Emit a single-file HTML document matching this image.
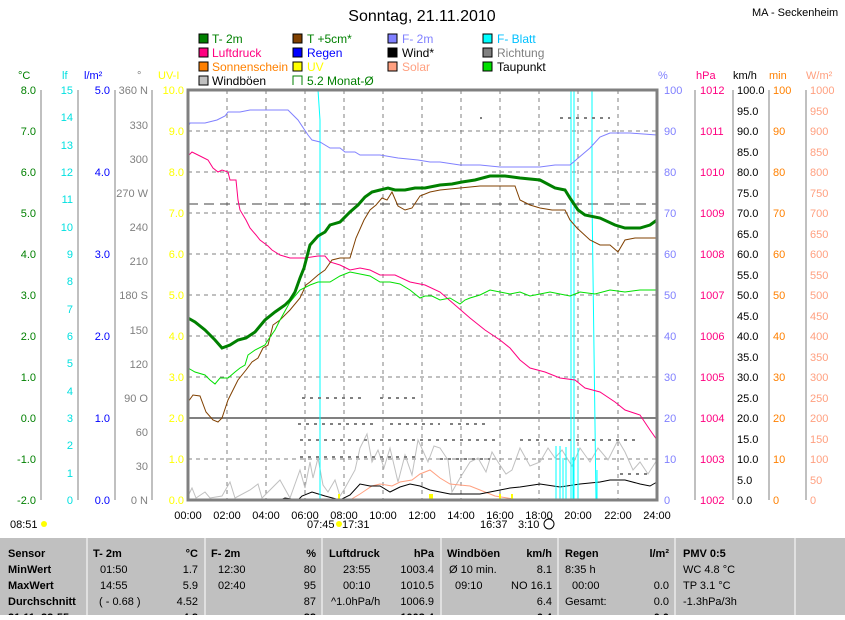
<!DOCTYPE html>
<html><head><meta charset="utf-8"><style>
body{margin:0;background:#fff;width:845px;height:615px;overflow:hidden;font-family:"Liberation Sans",sans-serif}
svg text{font-family:"Liberation Sans",sans-serif}
</style></head><body>
<svg width="845" height="615" viewBox="0 0 845 615" xmlns="http://www.w3.org/2000/svg" font-size="12">
<rect width="845" height="615" fill="#fff"/>
<text x="422" y="21" font-size="16" text-anchor="middle">Sonntag, 21.11.2010</text>
<text x="752" y="16" font-size="11">MA - Seckenheim</text>
<g font-size="12">
<rect x="199" y="34" width="9" height="9" fill="#008000" stroke="#000"/><text x="212" y="43" fill="#008000">T- 2m</text>
<rect x="199" y="48" width="9" height="9" fill="#ff0080" stroke="#000"/><text x="212" y="57" fill="#ff0080">Luftdruck</text>
<rect x="199" y="62" width="9" height="9" fill="#ff8000" stroke="#000"/><text x="212" y="71" fill="#ff8000">Sonnenschein</text>
<rect x="199" y="76" width="9" height="9" fill="#c0c0c0" stroke="#000"/><text x="212" y="85" fill="#000">Windböen</text>
<rect x="293" y="34" width="9" height="9" fill="#804000" stroke="#000"/><text x="307" y="43" fill="#008000">T +5cm*</text>
<rect x="293" y="48" width="9" height="9" fill="#0000ff" stroke="#000"/><text x="307" y="57" fill="#0000ff">Regen</text>
<rect x="293" y="62" width="9" height="9" fill="#ffff00" stroke="#000"/><text x="307" y="71" fill="#ffff00">UV</text>
<path d="M302,85 V76 H293 V85" fill="none" stroke="#008000"/><text x="307" y="85" fill="#008000">5.2 Monat-Ø</text>
<rect x="388" y="34" width="9" height="9" fill="#8080ff" stroke="#000"/><text x="402" y="43" fill="#8080ff">F- 2m</text>
<rect x="388" y="48" width="9" height="9" fill="#000" stroke="#000"/><text x="402" y="57" fill="#000">Wind*</text>
<rect x="388" y="62" width="9" height="9" fill="#ffa080" stroke="#000"/><text x="402" y="71" fill="#ffa080">Solar</text>
<rect x="483" y="34" width="9" height="9" fill="#00ffff" stroke="#000"/><text x="497" y="43" fill="#00c0ff">F- Blatt</text>
<rect x="483" y="48" width="9" height="9" fill="#808080" stroke="#000"/><text x="497" y="57" fill="#808080">Richtung</text>
<rect x="483" y="62" width="9" height="9" fill="#00e000" stroke="#000"/><text x="497" y="71" fill="#000">Taupunkt</text>
</g>
<g font-size="11">
<text x="18" y="79" fill="#008000">°C</text><text x="62" y="79" fill="#00e0e0">lf</text><text x="84" y="79" fill="#0000ff">l/m²</text>
<text x="137" y="79" fill="#808080">°</text><text x="158" y="79" fill="#ffff00">UV-I</text>
<text x="658" y="79" fill="#8080ff">%</text><text x="696" y="79" fill="#ff0080">hPa</text><text x="733" y="79" fill="#000">km/h</text>
<text x="769" y="79" fill="#ff8000">min</text><text x="806" y="79" fill="#ffa080">W/m²</text>
</g>
<g stroke="#808080" stroke-width="1">
<line x1="41" y1="90" x2="41" y2="500"/><line x1="78" y1="90" x2="78" y2="500"/><line x1="115" y1="90" x2="115" y2="500"/><line x1="152" y1="90" x2="152" y2="500"/>
<line x1="695" y1="90" x2="695" y2="500"/><line x1="733" y1="90" x2="733" y2="500"/><line x1="769" y1="90" x2="769" y2="500"/><line x1="806" y1="90" x2="806" y2="500"/>
</g>
<g stroke="#808080" stroke-dasharray="4,4">
<line x1="227" y1="90" x2="227" y2="500"/><line x1="266" y1="90" x2="266" y2="500"/><line x1="305" y1="90" x2="305" y2="500"/><line x1="344" y1="90" x2="344" y2="500"/><line x1="383" y1="90" x2="383" y2="500"/><line x1="422" y1="90" x2="422" y2="500"/><line x1="461" y1="90" x2="461" y2="500"/><line x1="500" y1="90" x2="500" y2="500"/><line x1="539" y1="90" x2="539" y2="500"/><line x1="578" y1="90" x2="578" y2="500"/><line x1="618" y1="90" x2="618" y2="500"/>
<line x1="188" y1="131" x2="657" y2="131"/><line x1="188" y1="172" x2="657" y2="172"/><line x1="188" y1="213" x2="657" y2="213"/><line x1="188" y1="254" x2="657" y2="254"/><line x1="188" y1="295" x2="657" y2="295"/><line x1="188" y1="336" x2="657" y2="336"/><line x1="188" y1="377" x2="657" y2="377"/><line x1="188" y1="459" x2="657" y2="459"/>
</g>
<line x1="188" y1="204" x2="657" y2="204" stroke="#404040" stroke-dasharray="10,6"/>
<line x1="188" y1="418" x2="657" y2="418" stroke="#808080" stroke-width="2"/>
<g font-size="11" text-anchor="end">
<g fill="#008000"><text x="36" y="94">8.0</text><text x="36" y="135">7.0</text><text x="36" y="176">6.0</text><text x="36" y="217">5.0</text><text x="36" y="258">4.0</text><text x="36" y="299">3.0</text><text x="36" y="340">2.0</text><text x="36" y="381">1.0</text><text x="36" y="422">0.0</text><text x="36" y="463">-1.0</text><text x="36" y="504">-2.0</text></g>
<g fill="#00e0e0"><text x="73" y="94">15</text><text x="73" y="121">14</text><text x="73" y="149">13</text><text x="73" y="176">12</text><text x="73" y="203">11</text><text x="73" y="231">10</text><text x="73" y="258">9</text><text x="73" y="285">8</text><text x="73" y="313">7</text><text x="73" y="340">6</text><text x="73" y="367">5</text><text x="73" y="395">4</text><text x="73" y="422">3</text><text x="73" y="449">2</text><text x="73" y="477">1</text><text x="73" y="504">0</text></g>
<g fill="#0000ff"><text x="110" y="94">5.0</text><text x="110" y="176">4.0</text><text x="110" y="258">3.0</text><text x="110" y="340">2.0</text><text x="110" y="422">1.0</text><text x="110" y="504">0.0</text></g>
<g fill="#808080"><text x="148" y="94">360 N</text><text x="148" y="129">330</text><text x="148" y="163">300</text><text x="148" y="197">270 W</text><text x="148" y="231">240</text><text x="148" y="265">210</text><text x="148" y="299">180 S</text><text x="148" y="334">150</text><text x="148" y="368">120</text><text x="148" y="402">90 O</text><text x="148" y="436">60</text><text x="148" y="470">30</text><text x="148" y="504">0 N</text></g>
<g fill="#ffff00"><text x="184" y="94">10.0</text><text x="184" y="135">9.0</text><text x="184" y="176">8.0</text><text x="184" y="217">7.0</text><text x="184" y="258">6.0</text><text x="184" y="299">5.0</text><text x="184" y="340">4.0</text><text x="184" y="381">3.0</text><text x="184" y="422">2.0</text><text x="184" y="463">1.0</text><text x="184" y="504">0.0</text></g>
</g>
<g font-size="11">
<g fill="#8080ff"><text x="664" y="94">100</text><text x="664" y="135">90</text><text x="664" y="176">80</text><text x="664" y="217">70</text><text x="664" y="258">60</text><text x="664" y="299">50</text><text x="664" y="340">40</text><text x="664" y="381">30</text><text x="664" y="422">20</text><text x="664" y="463">10</text><text x="664" y="504">0</text></g>
<g fill="#ff0080"><text x="700" y="94">1012</text><text x="700" y="135">1011</text><text x="700" y="176">1010</text><text x="700" y="217">1009</text><text x="700" y="258">1008</text><text x="700" y="299">1007</text><text x="700" y="340">1006</text><text x="700" y="381">1005</text><text x="700" y="422">1004</text><text x="700" y="463">1003</text><text x="700" y="504">1002</text></g>
<g fill="#000"><text x="737" y="94">100.0</text><text x="737" y="115">95.0</text><text x="737" y="135">90.0</text><text x="737" y="156">85.0</text><text x="737" y="176">80.0</text><text x="737" y="197">75.0</text><text x="737" y="217">70.0</text><text x="737" y="238">65.0</text><text x="737" y="258">60.0</text><text x="737" y="279">55.0</text><text x="737" y="299">50.0</text><text x="737" y="320">45.0</text><text x="737" y="340">40.0</text><text x="737" y="361">35.0</text><text x="737" y="381">30.0</text><text x="737" y="402">25.0</text><text x="737" y="422">20.0</text><text x="737" y="443">15.0</text><text x="737" y="463">10.0</text><text x="737" y="484">5.0</text><text x="737" y="504">0.0</text></g>
<g fill="#ff8000"><text x="773" y="94">100</text><text x="773" y="135">90</text><text x="773" y="176">80</text><text x="773" y="217">70</text><text x="773" y="258">60</text><text x="773" y="299">50</text><text x="773" y="340">40</text><text x="773" y="381">30</text><text x="773" y="422">20</text><text x="773" y="463">10</text><text x="773" y="504">0</text></g>
<g fill="#ffa080"><text x="810" y="94">1000</text><text x="810" y="115">950</text><text x="810" y="135">900</text><text x="810" y="156">850</text><text x="810" y="176">800</text><text x="810" y="197">750</text><text x="810" y="217">700</text><text x="810" y="238">650</text><text x="810" y="258">600</text><text x="810" y="279">550</text><text x="810" y="299">500</text><text x="810" y="320">450</text><text x="810" y="340">400</text><text x="810" y="361">350</text><text x="810" y="381">300</text><text x="810" y="402">250</text><text x="810" y="422">200</text><text x="810" y="443">150</text><text x="810" y="463">100</text><text x="810" y="484">50</text><text x="810" y="504">0</text></g>
</g>
<polyline fill="none" stroke="#c0c0c0" points="188,496 192,488 196,498 205,492 210,498 222,496 230,482 235,498 250,490 258,484 262,498 280,480 290,498 300,470 305,488 310,462 313,478 318,458 323,485 328,492 335,480 340,496 345,488 355,470 360,448 367,434 372,462 378,450 384,468 390,448 398,482 405,455 412,475 418,440 428,462 434,446 440,448 448,460 452,492 460,478 470,462 478,458 486,472 492,452 498,462 506,474 512,470 520,448 530,466 540,462 548,448 555,458 562,450 572,466 580,448 590,462 598,448 608,460 618,440 625,452 633,470 640,462 648,474 657,460"/>
<polyline fill="none" stroke="#ffa080" points="188,500 350,500 360,494 372,486 380,484 392,486 400,482 412,480 420,474 430,470 440,478 450,484 470,486 480,490 495,496 520,500 657,500"/>
<polyline fill="none" stroke="#000" points="188,500 280,500 285,498 298,500 302,496 312,492 325,496 340,500 350,495 360,484 370,486 380,486 390,492 400,487 410,484 420,486 430,490 440,492 450,494 460,494 480,494 500,490 510,488 520,487 540,484 560,487 580,484 600,482 610,480 625,480 640,484 650,486 657,482"/>
<path d="M556,500 V446 M560,500 V446 M563,500 V458 M566,500 V447 M571,500 V459 M573,500 V457 M578,500 V448 M597,470 V500" stroke="#00ffff" fill="none"/>
<path d="M188,90 H318 L320,120 V500 M571,90 V500 M574,90 V500 M592,90 V200 L596,500" stroke="#00ffff" fill="none"/>
<path d="M339,500 v-6 M430,500 v-6 M432,500 v-6 M500,500 v-6 M512,500 v-6" stroke="#ffff00" stroke-width="2"/>
<g stroke="#808080" stroke-width="2" stroke-dasharray="3,5"><path d="M302,398 h60 M380,398 h40 M200,418 h20 M298,424 h80 M390,424 h50 M450,424 h40 M300,440 h200 M520,440 h120 M300,457 h120 M440,459 h50 M480,118 h2 M560,118 h50 M620,474 h30"/></g>
<polyline fill="none" stroke="#8080ff" points="188,127 190,123 205,123 217,120 225,116 228,112 240,112 250,110 272,110 288,110 298,120 308,135 312,140 320,142 330,148 340,148 345,152 355,152 360,155 380,155 398,158 418,160 430,162 440,162 460,165 480,165 500,167 520,167 540,167 555,165 570,165 590,148 600,137 610,133 630,133 657,135"/>
<polyline fill="none" stroke="#ff0080" points="188,156 192,152 200,156 208,160 213,168 218,172 222,170 228,172 230,180 236,180 238,200 240,210 246,220 250,228 256,235 260,240 268,246 272,250 280,255 290,258 305,258 318,256 325,256 330,262 340,265 350,270 360,268 370,270 380,275 395,275 410,282 425,285 440,292 455,305 470,318 485,330 500,340 510,348 520,360 530,368 545,372 560,378 575,380 585,388 600,392 615,402 625,410 640,415 650,430 657,440"/>
<polyline fill="none" stroke="#804000" stroke-width="1" points="188,402 193,395 200,396 206,412 213,420 218,422 222,418 228,400 233,390 238,380 246,370 252,362 258,358 263,348 268,345 273,325 280,320 290,310 300,298 306,285 310,282 318,275 325,270 332,260 340,258 350,258 356,238 364,220 370,210 376,205 382,198 387,200 392,192 398,206 405,210 412,208 420,196 430,192 440,190 460,188 480,186 500,186 515,186 520,200 530,205 540,208 552,210 565,210 570,220 577,228 590,240 600,245 610,245 618,252 625,240 635,238 657,238"/>
<polyline fill="none" stroke="#00e000" points="188,368 195,372 205,375 210,380 215,384 220,378 228,378 235,372 240,368 245,365 248,355 255,350 265,345 268,340 275,330 280,320 290,302 300,290 310,285 318,282 330,282 340,276 350,272 360,274 370,276 380,282 390,282 400,284 410,290 420,298 425,296 432,296 440,300 450,298 460,304 465,300 470,298 480,295 490,290 500,292 510,294 520,292 530,296 540,294 550,292 560,294 570,296 580,292 595,294 610,290 625,292 640,290 657,290"/>
<polyline fill="none" stroke="#008000" stroke-width="3" points="188,318 195,322 205,330 215,340 222,348 230,345 238,340 246,338 255,332 265,320 275,312 285,305 290,300 295,292 300,278 304,268 310,245 318,236 325,232 330,225 340,222 350,212 358,205 365,197 372,192 380,190 388,188 395,190 405,190 415,188 425,188 440,185 452,184 462,182 475,180 490,176 505,176 520,178 540,180 555,188 565,190 570,198 578,210 585,215 600,218 615,225 625,228 640,228 650,225 657,220"/>
<rect x="188" y="90" width="469" height="410" fill="none" stroke="#808080" stroke-width="3"/>
<g font-size="11" text-anchor="middle">
<text x="188" y="519">00:00</text><text x="227" y="519">02:00</text><text x="266" y="519">04:00</text><text x="305" y="519">06:00</text><text x="344" y="519">08:00</text><text x="383" y="519">10:00</text><text x="422" y="519">12:00</text><text x="461" y="519">14:00</text><text x="500" y="519">16:00</text><text x="539" y="519">18:00</text><text x="578" y="519">20:00</text><text x="618" y="519">22:00</text><text x="657" y="519">24:00</text>
</g>
<g font-size="11"><text x="10" y="528">08:51</text><circle cx="44" cy="524" r="3" fill="#ffff00"/>
<text x="307" y="528">07:45</text><text x="342" y="528">17:31</text><circle cx="339" cy="524" r="3" fill="#ffff00"/>
<text x="480" y="528">16:37</text><text x="518" y="528">3:10</text><circle cx="549" cy="524" r="5" fill="none" stroke="#000"/></g>
<rect x="0" y="538" width="845" height="77" fill="#c0c0c0"/>
<g stroke="#fff"><line x1="87" y1="538" x2="87" y2="615"/><line x1="205" y1="538" x2="205" y2="615"/><line x1="322" y1="538" x2="322" y2="615"/><line x1="441" y1="538" x2="441" y2="615"/><line x1="558" y1="538" x2="558" y2="615"/><line x1="675" y1="538" x2="675" y2="615"/><line x1="795" y1="538" x2="795" y2="615"/></g>
<g font-size="11">
<g font-weight="bold"><text x="8" y="557">Sensor</text><text x="8" y="573">MinWert</text><text x="8" y="589">MaxWert</text><text x="8" y="605">Durchschnitt</text><text x="8" y="621">21.11. 22:55</text>
<text x="93" y="557">T- 2m</text><text x="198" y="557" text-anchor="end">°C</text>
<text x="211" y="557">F- 2m</text><text x="316" y="557" text-anchor="end">%</text>
<text x="329" y="557">Luftdruck</text><text x="434" y="557" text-anchor="end">hPa</text>
<text x="447" y="557">Windböen</text><text x="552" y="557" text-anchor="end">km/h</text>
<text x="565" y="557">Regen</text><text x="669" y="557" text-anchor="end">l/m²</text>
<text x="683" y="557">PMV 0:5</text>
<text x="198" y="621" text-anchor="end">4.8</text><text x="316" y="621" text-anchor="end">88</text><text x="434" y="621" text-anchor="end">1003.4</text><text x="552" y="621" text-anchor="end">6.4</text><text x="669" y="621" text-anchor="end">0.0</text></g>
<text x="100" y="573">01:50</text><text x="198" y="573" text-anchor="end">1.7</text>
<text x="100" y="589">14:55</text><text x="198" y="589" text-anchor="end">5.9</text>
<text x="99" y="605">( - 0.68 )</text><text x="198" y="605" text-anchor="end">4.52</text>
<text x="218" y="573">12:30</text><text x="316" y="573" text-anchor="end">80</text>
<text x="218" y="589">02:40</text><text x="316" y="589" text-anchor="end">95</text>
<text x="316" y="605" text-anchor="end">87</text>
<text x="343" y="573">23:55</text><text x="434" y="573" text-anchor="end">1003.4</text>
<text x="343" y="589">00:10</text><text x="434" y="589" text-anchor="end">1010.5</text>
<text x="331" y="605">^1.0hPa/h</text><text x="434" y="605" text-anchor="end">1006.9</text>
<text x="449" y="573">Ø 10 min.</text><text x="552" y="573" text-anchor="end">8.1</text>
<text x="455" y="589">09:10</text><text x="552" y="589" text-anchor="end">NO 16.1</text>
<text x="552" y="605" text-anchor="end">6.4</text>
<text x="565" y="573">8:35 h</text>
<text x="572" y="589">00:00</text><text x="669" y="589" text-anchor="end">0.0</text>
<text x="565" y="605">Gesamt:</text><text x="669" y="605" text-anchor="end">0.0</text>
<text x="683" y="573">WC 4.8 °C</text><text x="683" y="589">TP 3.1 °C</text><text x="683" y="605">-1.3hPa/3h</text>
</g>
</svg>
</body></html>
